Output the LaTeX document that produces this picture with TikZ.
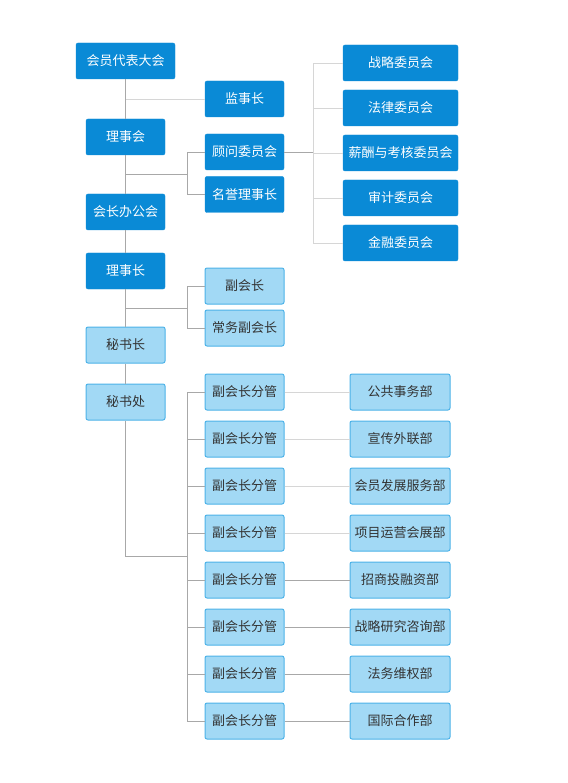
\documentclass[tikz,border=0pt]{standalone}
\usepackage{fontspec}
\setmainfont{Noto Sans CJK SC}
\definecolor{dblue}{HTML}{0A8AD6}
\definecolor{lblue}{HTML}{A2D9F5}
\definecolor{lborder}{HTML}{4CB2E8}
\definecolor{txt}{HTML}{333333}
\definecolor{lnA}{HTML}{A8A8A8}
\definecolor{lnB}{HTML}{D6D6D6}
\begin{document}
\begin{tikzpicture}[x=1pt,y=-1pt,
  dark/.style={rectangle, rounded corners=2pt, fill=dblue, draw=dblue, text=white,
    minimum width=79pt, minimum height=36pt, inner sep=0pt, font=\fontsize{13}{15}\selectfont},
  light/.style={rectangle, rounded corners=2pt, fill=lblue, draw=lborder, line width=1pt, text=txt,
    minimum width=79pt, minimum height=36pt, inner sep=0pt, font=\fontsize{13}{15}\selectfont},
  ln/.style={draw=lnA, line width=0.8pt},
  lnl/.style={draw=lnB, line width=0.8pt}]
\useasboundingbox (0,0) rectangle (567,783);

% left column
\node[dark, minimum width=99pt] (dbdh) at (125.5,61) {会员代表大会};
\node[dark] (lsh) at (125.5,137) {理事会};
\node[dark] (hzbgh) at (125.5,212) {会长办公会};
\node[dark] (lsz) at (125.5,271) {理事长};
\node[light] (msz) at (125.5,345) {秘书长};
\node[light] (msc) at (125.5,402) {秘书处};

% middle column
\node[dark] (jsz) at (244.5,99) {监事长};
\node[dark] (gw) at (244.5,152) {顾问委员会};
\node[dark] (my) at (244.5,194.5) {名誉理事长};
\node[light] (fhz) at (244.5,286) {副会长};
\node[light] (cwf) at (244.5,328) {常务副会长};

% committees
\node[dark, minimum width=115pt] (zl) at (400.5,63) {战略委员会};
\node[dark, minimum width=115pt] (fl) at (400.5,108) {法律委员会};
\node[dark, minimum width=115pt] (xc) at (400.5,153) {薪酬与考核委员会};
\node[dark, minimum width=115pt] (sj) at (400.5,198) {审计委员会};
\node[dark, minimum width=115pt] (jr) at (400.5,243) {金融委员会};

% vice presidents and departments
\foreach \i/\y/\d in {1/392/公共事务部, 2/439/宣传外联部, 3/486/会员发展服务部, 4/533/项目运营会展部,
                      5/580/招商投融资部, 6/627/战略研究咨询部, 7/674/法务维权部, 8/721/国际合作部}{
  \node[light] (fg\i) at (244.5,\y) {副会长分管};
  \node[light, minimum width=100pt] (d\i) at (400,\y) {\d};
}

% junction coordinates
\coordinate (j1) at (187,174);
\coordinate (j2) at (313,152);
\coordinate (j3) at (187,308);
\coordinate (t1) at (125.5,556);
\coordinate (t2) at (187,556);

% trunk
\draw[ln] (dbdh.south) -- (lsh.north);
\draw[ln] (lsh.south) -- (hzbgh.north);
\draw[ln] (hzbgh.south) -- (lsz.north);
\draw[ln] (lsz.south) -- (msz.north);
\draw[ln] (msz.south) -- (msc.north);
\draw[ln] (msc.south) -- (t1) -- (t2);

% 监事长
\draw[lnl] (dbdh.south |- jsz.west) -- (jsz.west);

% 理事会 branch
\draw[ln] (lsh.south |- j1) -- (j1);
\draw[ln] (gw.west) -- (gw.west -| j1) -- (my.west -| j1) -- (my.west);

% committees branch
\draw[ln] (gw.east) -- (j2);
\draw[lnl] (zl.west) -- (zl.west -| j2) -- (jr.west -| j2) -- (jr.west);
\foreach \n in {fl,xc,sj}{ \draw[lnl] (\n.west -| j2) -- (\n.west); }

% 理事长 branch
\draw[ln] (lsz.south |- j3) -- (j3);
\draw[ln] (fhz.west) -- (fhz.west -| j3) -- (cwf.west -| j3) -- (cwf.west);

% 秘书处 branch
\draw[ln] (fg1.west) -- (fg1.west -| t2) -- (fg8.west -| t2) -- (fg8.west);
\foreach \i in {2,...,7}{ \draw[ln] (fg\i.west -| t2) -- (fg\i.west); }
\foreach \i in {1,...,4}{ \draw[lnl] (fg\i.east) -- (d\i.west); }
\foreach \i in {5,...,8}{ \draw[ln] (fg\i.east) -- (d\i.west); }
\end{tikzpicture}
\end{document}
